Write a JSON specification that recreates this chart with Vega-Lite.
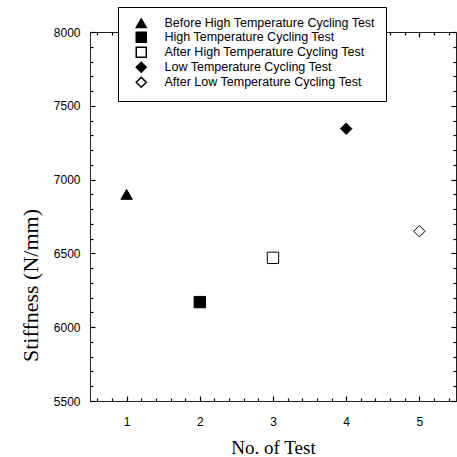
{
  "$schema": "https://vega.github.io/schema/vega-lite/v6.json",
  "autosize": "none",
  "width": 366,
  "height": 369,
  "padding": {"left": 90, "top": 32, "right": 1, "bottom": 56},
  "background": "white",
  "config": {
    "view": {"stroke": "#222", "strokeWidth": 1},
    "axis": {"domainColor": "#222", "labelColor": "black", "titleColor": "black", "grid": false, "labelFont": "Liberation Sans", "labelFontSize": 12, "titleFont": "Liberation Serif", "titleFontWeight": "normal"}
  },
  "data": {"values": [
    {"test": 1, "stiffness": 6900, "series": "Before High Temperature Cycling Test"},
    {"test": 2, "stiffness": 6170, "series": "High Temperature Cycling Test"},
    {"test": 3, "stiffness": 6470, "series": "After High Temperature Cycling Test"},
    {"test": 4, "stiffness": 7345, "series": "Low Temperature Cycling Test"},
    {"test": 5, "stiffness": 6650, "series": "After Low Temperature Cycling Test"}
  ]},
  "resolve": {"axis": {"x": "independent", "y": "independent"}},
  "layer": [
    {
      "mark": {"type": "point", "filled": true, "size": 130, "stroke": "black", "strokeWidth": 1, "opacity": 1},
      "encoding": {
        "x": {"field": "test", "type": "quantitative", "scale": {"domain": [0.5, 5.5], "nice": false, "zero": false},
          "axis": {"orient": "bottom", "values": [1, 2, 3, 4, 5], "format": "d", "ticks": false, "labelPadding": 15, "title": "No. of Test", "titleFontSize": 19, "titleBaseline": "middle", "titleY": 46, "labelFlush": false}},
        "y": {"field": "stiffness", "type": "quantitative", "scale": {"domain": [5500, 8000], "nice": false, "zero": false},
          "axis": {"orient": "left", "values": [5500, 6000, 6500, 7000, 7500, 8000], "format": "d", "ticks": false, "labelPadding": 10, "title": "Stiffness (N/mm)", "titleFontSize": 22, "titleBaseline": "middle", "titleX": -60, "titleY": 253, "labelFlush": false}},
        "shape": {"field": "series", "type": "nominal",
          "scale": {"domain": ["Before High Temperature Cycling Test", "High Temperature Cycling Test", "After High Temperature Cycling Test", "Low Temperature Cycling Test", "After Low Temperature Cycling Test"],
            "range": ["triangle-up", "square", "square", "diamond", "diamond"]},
          "legend": {"orient": "none", "legendX": 28, "legendY": -25, "title": null, "padding": 10, "labelFont": "Liberation Sans", "labelFontSize": 12.5, "labelLimit": 400, "symbolSize": 100, "rowPadding": -2, "strokeColor": "black", "fillColor": "white", "symbolOffset": 7, "labelOffset": 17,
            "encode": {"symbols": {"update": {"stroke": {"value": "black"}, "strokeWidth": {"value": 1}}}}}},
        "fill": {"field": "series", "type": "nominal",
          "scale": {"domain": ["Before High Temperature Cycling Test", "High Temperature Cycling Test", "After High Temperature Cycling Test", "Low Temperature Cycling Test", "After Low Temperature Cycling Test"],
            "range": ["black", "black", "white", "black", "white"]},
          "legend": {"orient": "none", "legendX": 28, "legendY": -25, "title": null, "padding": 10, "labelFont": "Liberation Sans", "labelFontSize": 12.5, "labelLimit": 400, "symbolSize": 100, "rowPadding": -2, "strokeColor": "black", "fillColor": "white", "symbolOffset": 7, "labelOffset": 17,
            "encode": {"symbols": {"update": {"stroke": {"value": "black"}, "strokeWidth": {"value": 1}}}}}}
      }
    },
    {
      "mark": {"type": "point", "opacity": 0},
      "encoding": {
        "x": {"field": "test", "type": "quantitative", "axis": {"orient": "bottom", "offset": -5, "values": [1, 2, 3, 4, 5], "tickSize": 5, "tickColor": "black", "tickWidth": 1.2, "labels": false, "domain": false, "title": null}},
        "y": {"field": "stiffness", "type": "quantitative", "axis": {"orient": "left", "offset": -5, "values": [5500, 6000, 6500, 7000, 7500, 8000], "tickSize": 5, "tickColor": "black", "tickWidth": 1.2, "labels": false, "domain": false, "title": null}}
      }
    },
    {
      "mark": {"type": "point", "opacity": 0},
      "encoding": {
        "x": {"field": "test", "type": "quantitative", "axis": {"orient": "bottom", "offset": -3, "values": [0.6, 0.8, 1.2, 1.4, 1.6, 1.8, 2.2, 2.4, 2.6, 2.8, 3.2, 3.4, 3.6, 3.8, 4.2, 4.4, 4.6, 4.8, 5.2, 5.4], "tickSize": 3, "tickColor": "black", "tickWidth": 1.2, "labels": false, "domain": false, "title": null}},
        "y": {"field": "stiffness", "type": "quantitative", "axis": {"orient": "left", "offset": -3, "values": [5600, 5700, 5800, 5900, 6100, 6200, 6300, 6400, 6600, 6700, 6800, 6900, 7100, 7200, 7300, 7400, 7600, 7700, 7800, 7900], "tickSize": 3, "tickColor": "black", "tickWidth": 1.2, "labels": false, "domain": false, "title": null}}
      }
    },
    {
      "mark": {"type": "point", "opacity": 0},
      "encoding": {
        "x": {"field": "test", "type": "quantitative", "axis": {"orient": "top", "offset": -5, "values": [1, 2, 3, 4, 5], "tickSize": 5, "tickColor": "black", "tickWidth": 1.2, "labels": false, "domain": false, "title": null}},
        "y": {"field": "stiffness", "type": "quantitative", "axis": {"orient": "right", "offset": -5, "values": [5500, 6000, 6500, 7000, 7500, 8000], "tickSize": 5, "tickColor": "black", "tickWidth": 1.2, "labels": false, "domain": false, "title": null}}
      }
    },
    {
      "mark": {"type": "point", "opacity": 0},
      "encoding": {
        "x": {"field": "test", "type": "quantitative", "axis": {"orient": "top", "offset": -3, "values": [0.6, 0.8, 1.2, 1.4, 1.6, 1.8, 2.2, 2.4, 2.6, 2.8, 3.2, 3.4, 3.6, 3.8, 4.2, 4.4, 4.6, 4.8, 5.2, 5.4], "tickSize": 3, "tickColor": "black", "tickWidth": 1.2, "labels": false, "domain": false, "title": null}},
        "y": {"field": "stiffness", "type": "quantitative", "axis": {"orient": "right", "offset": -3, "values": [5600, 5700, 5800, 5900, 6100, 6200, 6300, 6400, 6600, 6700, 6800, 6900, 7100, 7200, 7300, 7400, 7600, 7700, 7800, 7900], "tickSize": 3, "tickColor": "black", "tickWidth": 1.2, "labels": false, "domain": false, "title": null}}
      }
    }
  ]
}
